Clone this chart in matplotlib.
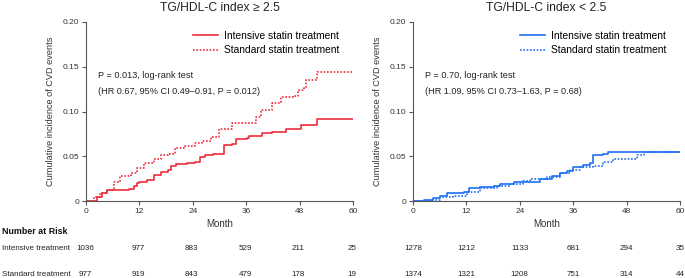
import matplotlib
matplotlib.use("Agg")
import matplotlib.pyplot as plt
from matplotlib.lines import Line2D
import matplotlib.transforms as mtransforms

plt.rcParams['font.family'] = ['Liberation Sans', 'DejaVu Sans']

# ---------------- data ----------------
months_ticks = [0, 12, 24, 36, 48, 60]

# TG/HDL-C >= 2.5
hi_int_t = [0, 2.4, 3.5, 4.7, 9.6, 10.8, 11.5, 12, 13.8, 15.3, 16.9, 18.4, 19.1, 20.3, 22.6, 24.4,
            25.6, 26.7, 28.6, 30.9, 32.8, 33.6, 36.2, 36.6, 39.6, 41.9, 45.0, 48.4, 51.8, 60]
hi_int_y = [0, 0.0045, 0.0093, 0.012, 0.013, 0.017, 0.020, 0.0216, 0.0235, 0.029, 0.032, 0.035, 0.039, 0.041,
            0.042, 0.044, 0.0496, 0.051, 0.053, 0.063, 0.064, 0.069, 0.070, 0.073, 0.0757, 0.0776, 0.081,
            0.085, 0.092, 0.092]
hi_std_t = [0, 1.7, 3.2, 4.7, 6.2, 7.7, 10.0, 11.5, 13.0, 15.3, 16.9, 18.4, 19.9, 22.2, 24.4, 26.0, 28.2,
            29.8, 32.8, 36.6, 38.1, 39.3, 41.9, 43.8, 46.5, 47.6, 49.1, 49.5, 51.4, 51.8, 60]
hi_std_y = [0, 0.005, 0.0086, 0.012, 0.0216, 0.028, 0.031, 0.0366, 0.042, 0.0466, 0.0515, 0.053, 0.059, 0.061,
            0.065, 0.0675, 0.072, 0.081, 0.087, 0.0877, 0.094, 0.102, 0.109, 0.116, 0.117, 0.124, 0.126,
            0.135, 0.135, 0.1437, 0.1437]

# TG/HDL-C < 2.5
lo_int_t = [0, 2.4, 4.6, 6.1, 7.6, 8.7, 11.4, 12.5, 15.1, 18.1, 19.6, 22.6, 27.8, 28.6, 31.2, 33.1, 34.6,
            36.0, 38.3, 39.8, 40.5, 42.8, 43.9, 60]
lo_int_y = [0, 0.001, 0.003, 0.0056, 0.0086, 0.0093, 0.0097, 0.014, 0.0157, 0.017, 0.019, 0.0216, 0.0216,
            0.0246, 0.028, 0.031, 0.033, 0.038, 0.040, 0.042, 0.051, 0.0526, 0.055, 0.055]
lo_std_t = [0, 3.1, 6.1, 9.1, 12.1, 15.1, 18.8, 21.8, 24.8, 26.3, 30.1, 33.1, 35.3, 37.5, 40.5, 42.8, 45.0,
            49.5, 50.3, 52.0, 60]
lo_std_y = [0, 0.001, 0.004, 0.0056, 0.0104, 0.014, 0.017, 0.019, 0.0224, 0.025, 0.027, 0.031, 0.0347,
            0.038, 0.039, 0.044, 0.047, 0.047, 0.0515, 0.055, 0.055]

hi_risk_int = [1036, 977, 883, 529, 211, 25]
hi_risk_std = [977, 919, 843, 479, 178, 19]
lo_risk_int = [1278, 1212, 1133, 681, 294, 35]
lo_risk_std = [1374, 1321, 1208, 751, 314, 44]

titles = ["TG/HDL-C index \u2265 2.5", "TG/HDL-C index < 2.5"]
stats = [["P = 0.013, log-rank test", "(HR 0.67, 95% CI 0.49\u20130.91, P = 0.012)"],
         ["P = 0.70, log-rank test", "(HR 1.09, 95% CI 0.73\u20131.63, P = 0.68)"]]
legend_labels = ["Intensive statin treatment", "Standard statin treatment"]

RED = '#ee2c3c'
BLUE = '#1f6ff2'
GRAY = '#555555'
LW = 1.2
DOT = (0, (1, 1))

W, H = 685, 278
fig = plt.figure(figsize=(W / 100, H / 100), dpi=100)

def fx(px):
    return px / W

def fy(py):
    return 1 - py / H

axes_px = [(86, 353), (413, 680)]
top_px, bot_px = 22, 201
risk_shift = [-0.25, 0.0]   # month offset of the at-risk numbers relative to the ticks

panels = [
    (hi_int_t, hi_int_y, hi_std_t, hi_std_y, hi_risk_int, hi_risk_std, RED),
    (lo_int_t, lo_int_y, lo_std_t, lo_std_y, lo_risk_int, lo_risk_std, BLUE),
]

for i, (x0, x1) in enumerate(axes_px):
    it, iy, st, sy, rint, rstd, col = panels[i]
    ax = fig.add_axes([fx(x0), fy(bot_px), fx(x1 - x0), (bot_px - top_px) / H])
    ax.step(it, iy, where='post', color=col, lw=LW, solid_capstyle='butt')
    ax.step(st, sy, where='post', color=col, lw=LW, linestyle=DOT)
    ax.set_xlim(0, 60)
    ax.set_ylim(0, 0.20)
    ax.set_xticks(months_ticks)
    ax.set_yticks([0, 0.05, 0.10, 0.15, 0.20])
    ax.set_yticklabels(['0', '0.05', '0.10', '0.15', '0.20'])
    for s in ['top', 'right']:
        ax.spines[s].set_visible(False)
    for s in ['left', 'bottom']:
        ax.spines[s].set_color(GRAY)
        ax.spines[s].set_linewidth(0.8)
    ax.tick_params(axis='both', colors=GRAY, labelcolor='#333333', labelsize=6, length=3, width=0.8, pad=2)
    ax.set_ylabel("Cumulative incidence of CVD events", fontsize=6.6, color='#333333', labelpad=5)
    ax.set_xlabel("Month", fontsize=7, color='#333333', labelpad=3)
    ax.set_title(titles[i], fontsize=8.7, color='#222222', pad=8)
    ax.text(0.045, 0.70, stats[i][0], transform=ax.transAxes, fontsize=6.6, color='#222222', va='center')
    ax.text(0.045, 0.61, stats[i][1], transform=ax.transAxes, fontsize=6.6, color='#222222', va='center')
    handles = [Line2D([], [], color=col, lw=LW),
               Line2D([], [], color=col, lw=LW, linestyle=DOT)]
    ax.legend(handles, legend_labels, loc='upper right', bbox_to_anchor=(0.966, 0.975), frameon=False,
              fontsize=7.4, handlelength=2.5, handletextpad=0.6, labelspacing=0.45, borderaxespad=0.0,
              borderpad=0.4)
    trans = mtransforms.blended_transform_factory(ax.transData, fig.transFigure)
    for m, a, b in zip(months_ticks, rint, rstd):
        xm = m + risk_shift[i]
        ax.text(xm, fy(249), str(a), transform=trans, ha='center', va='center', fontsize=5.8,
                color='#222222', clip_on=False)
        ax.text(xm, fy(275), str(b), transform=trans, ha='center', va='center', fontsize=5.8,
                color='#222222', clip_on=False)

fig.text(fx(2), fy(232), "Number at Risk", fontsize=6.4, fontweight='bold', va='center', color='#111111')
fig.text(fx(2), fy(249), "Intensive treatment", fontsize=5.8, va='center', color='#222222')
fig.text(fx(2), fy(275), "Standard treatment", fontsize=5.8, va='center', color='#222222')

fig.savefig("out.png", dpi=100)
